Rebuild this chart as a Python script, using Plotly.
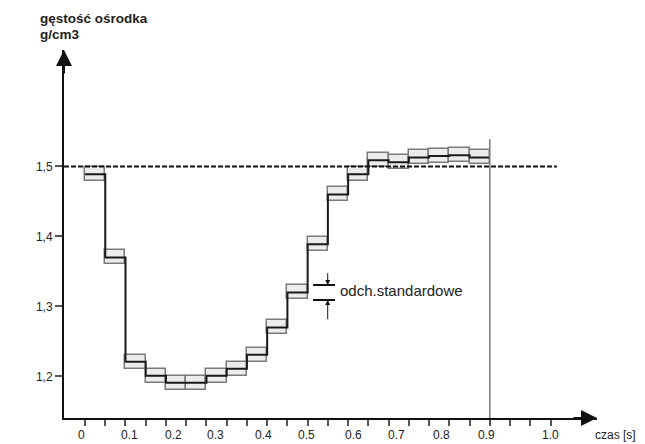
import plotly.graph_objects as go

# ---- data ----
step_width = 0.045  # s per measurement interval
means = [1.489, 1.370, 1.221, 1.201, 1.191, 1.191, 1.201, 1.211, 1.231, 1.270,
         1.320, 1.389, 1.460, 1.489, 1.509, 1.506, 1.513, 1.515, 1.516, 1.513]
sds = [0.010] * 20
ref_level = 1.5
end_time = 0.9
y_tick_vals = [1.2, 1.3, 1.4, 1.5]
y_tick_text = ["1,2", "1,3", "1,4", "1,5"]
x_label_text = ["0", "0.1", "0.2", "0.3", "0.4", "0.5", "0.6", "0.7", "0.8", "0.9", "1.0"]
x_label_pos = [-0.007, 0.100, 0.196, 0.291, 0.396, 0.493, 0.598, 0.693, 0.792, 0.892, 1.034]
n_ticks = 24
sd_marker = {"x0": 0.507, "x1": 0.556, "xa": 0.5396, "lo": 1.3093, "hi": 1.3307,
             "top": 1.3497, "bottom": 1.2797}

FONT = "Liberation Sans, Arial, sans-serif"

n = len(means)
starts = [k * step_width for k in range(n)]
centers = [(k + 0.5) * step_width for k in range(n)]

fig = go.Figure()

# standard deviation boxes
fig.add_trace(go.Bar(
    x=centers,
    y=[2 * s for s in sds],
    base=[m - s for m, s in zip(means, sds)],
    width=step_width,
    marker=dict(color="#ececec", line=dict(color="#7a7a7a", width=1.5)),
    showlegend=False, hoverinfo="skip",
))

# mean step line
fig.add_trace(go.Scatter(
    x=starts + [n * step_width],
    y=means + [means[-1]],
    mode="lines", line=dict(color="#1a1a1a", width=2, shape="hv"),
    showlegend=False, hoverinfo="skip",
))

x_min, x_max = -0.0467, 1.1383
y_min, y_max = 1.1407, 1.6664

# page body has an 8px offset; plot area placed so it lands at screen (64..597, 50..418)
OFF = 8
L, T = 64 - OFF, 50 - OFF
R = 645 - (597 - OFF)
B = 444 - (418 - OFF)
PW = 645 - L - R

shapes = [
    dict(type="line", xref="x", yref="y", x0=x_min, x1=1.049, y0=ref_level, y1=ref_level,
         line=dict(color="#111", width=2, dash="5px,2px")),
    dict(type="line", xref="x", yref="y", x0=end_time, x1=end_time, y0=y_min, y1=1.539,
         line=dict(color="#7a7a7a", width=1.5)),
    dict(type="line", xref="x", yref="y", x0=sd_marker["x0"], x1=sd_marker["x1"],
         y0=sd_marker["hi"], y1=sd_marker["hi"], line=dict(color="#111", width=2)),
    dict(type="line", xref="x", yref="y", x0=sd_marker["x0"], x1=sd_marker["x1"],
         y0=sd_marker["lo"], y1=sd_marker["lo"], line=dict(color="#111", width=2)),
]

annotations = []
annotations.append(dict(xref="paper", yref="paper", x=0, y=1, ax=0, ay=25,
                        showarrow=True, arrowhead=2, arrowsize=1.6, arrowwidth=2,
                        arrowcolor="#111", text=""))
annotations.append(dict(xref="paper", yref="paper", x=1, y=0, ax=-25, ay=0,
                        showarrow=True, arrowhead=2, arrowsize=1.6, arrowwidth=2,
                        arrowcolor="#111", text=""))
annotations.append(dict(xref="x", yref="y", axref="x", ayref="y",
                        x=sd_marker["xa"], y=sd_marker["hi"],
                        ax=sd_marker["xa"], ay=sd_marker["top"],
                        showarrow=True, arrowhead=2, arrowsize=1, arrowwidth=1,
                        arrowcolor="#111", text=""))
annotations.append(dict(xref="x", yref="y", axref="x", ayref="y",
                        x=sd_marker["xa"], y=sd_marker["lo"],
                        ax=sd_marker["xa"], ay=sd_marker["bottom"],
                        showarrow=True, arrowhead=2, arrowsize=1, arrowwidth=1,
                        arrowcolor="#111", text=""))
annotations.append(dict(xref="x", yref="y", x=0.5625, y=1.3226, xanchor="left",
                        yanchor="middle", showarrow=False, text="odch.standardowe",
                        font=dict(family=FONT, size=15, color="#222")))
for t, p in zip(x_label_text, x_label_pos):
    annotations.append(dict(xref="x", yref="paper", x=p, y=0, yshift=-17,
                            xanchor="center", yanchor="middle", showarrow=False,
                            text=t, font=dict(family=FONT, size=12, color="#222")))
annotations.append(dict(xref="paper", yref="paper", x=(638 - 64) / PW, y=0, yshift=-17,
                        xanchor="right", yanchor="middle", showarrow=False,
                        text="czas [s]", font=dict(family=FONT, size=12, color="#222")))
annotations.append(dict(xref="paper", yref="paper", x=(38 - 64) / PW, y=1, yshift=32,
                        xanchor="left", yanchor="middle", showarrow=False,
                        text="<b>gęstość ośrodka</b>", font=dict(family=FONT, size=13.5, color="#222")))
annotations.append(dict(xref="paper", yref="paper", x=(38 - 64) / PW, y=1, yshift=16,
                        xanchor="left", yanchor="middle", showarrow=False,
                        text="<b>g/cm3</b>", font=dict(family=FONT, size=13.5, color="#222")))

fig.update_layout(
    width=645, height=444,
    margin=dict(l=L, r=R, t=T, b=B),
    plot_bgcolor="white", paper_bgcolor="white",
    barmode="overlay", bargap=0,
    shapes=shapes, annotations=annotations,
    font=dict(family=FONT, size=12, color="#222"),
    xaxis=dict(range=[x_min, x_max], showgrid=False, zeroline=False,
               showline=True, linecolor="#111", linewidth=2,
               ticks="outside", ticklen=6, tickwidth=1.5, tickcolor="#555",
               tickvals=[k * step_width for k in range(n_ticks)],
               showticklabels=False),
    yaxis=dict(range=[y_min, y_max], showgrid=False, zeroline=False,
               showline=True, linecolor="#111", linewidth=2,
               ticks="outside", ticklen=7, tickwidth=1.5, tickcolor="#555",
               tickvals=y_tick_vals, ticktext=y_tick_text,
               tickfont=dict(family=FONT, size=12, color="#222")),
)

fig.write_html("out.html")
